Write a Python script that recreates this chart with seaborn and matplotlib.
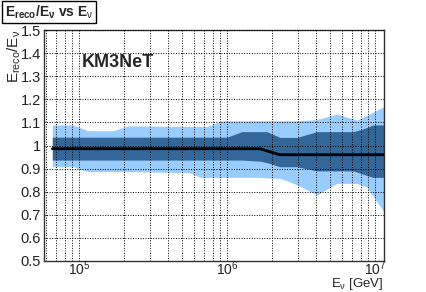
import numpy as np
import pandas as pd
import matplotlib
matplotlib.use("Agg")
import matplotlib.pyplot as plt
import matplotlib.ticker as mticker
import seaborn as sns

# Data (neutrino energy in GeV)
energy = [6.6e4, 9.1e4, 1.15e5, 1.7e5, 2.15e5, 5.6e5, 6.6e5, 7.3e5, 9.3e5, 1.0e6,
          1.26e6, 1.67e6, 1.86e6, 2.28e6, 2.97e6, 4.06e6, 5.53e6, 7.1e6, 7.55e6,
          8.83e6, 9.7e6, 1.15e7]
median = [0.986, 0.986, 0.986, 0.986, 0.986, 0.986, 0.986, 0.986, 0.986, 0.986,
          0.986, 0.986, 0.977, 0.960, 0.960, 0.960, 0.960, 0.960, 0.960,
          0.960, 0.960, 0.960]
dark_lo = [0.937, 0.937, 0.937, 0.937, 0.937, 0.937, 0.937, 0.937, 0.937, 0.937,
           0.937, 0.932, 0.926, 0.908, 0.908, 0.890, 0.890, 0.890, 0.885,
           0.870, 0.862, 0.862]
dark_hi = [1.036, 1.036, 1.036, 1.036, 1.036, 1.036, 1.036, 1.036, 1.036, 1.036,
           1.060, 1.060, 1.060, 1.035, 1.035, 1.060, 1.060, 1.060, 1.064,
           1.078, 1.089, 1.089]
light_lo = [0.908, 0.908, 0.887, 0.887, 0.887, 0.882, 0.862, 0.862, 0.862, 0.862,
            0.862, 0.862, 0.860, 0.858, 0.830, 0.786, 0.836, 0.836, 0.836,
            0.820, 0.780, 0.713]
light_hi = [1.089, 1.089, 1.064, 1.064, 1.085, 1.082, 1.082, 1.082, 1.107, 1.107,
            1.107, 1.107, 1.107, 1.107, 1.107, 1.112, 1.136, 1.115, 1.110,
            1.131, 1.144, 1.168]

df = pd.DataFrame({"E": energy, "median": median})

sns.set_style("white")
plt.rcParams["font.family"] = ["Liberation Sans", "DejaVu Sans"]
plt.rcParams["mathtext.fontset"] = "custom"
plt.rcParams["mathtext.rm"] = "Liberation Sans"
plt.rcParams["mathtext.it"] = "Liberation Sans"
plt.rcParams["mathtext.bf"] = "Liberation Sans:bold"

fig = plt.figure(figsize=(4.27, 2.92), dpi=100)
ax = fig.add_axes([44 / 427, 31 / 292, 340 / 427, 231 / 292])

ax.fill_between(energy, light_lo, light_hi, color="#99ccff", lw=0, zorder=1)
ax.fill_between(energy, dark_lo, dark_hi, color="#336699", lw=0, zorder=2)
sns.lineplot(data=df, x="E", y="median", color="black", linewidth=2, ax=ax, zorder=3)
ax.set_xlabel("")
ax.set_ylabel("")

ax.set_xscale("log")
ax.set_xlim(5.8e4, 1.15e7)
ax.set_ylim(0.5, 1.5)
yt = np.round(np.arange(0.5, 1.51, 0.1), 1)
ax.set_yticks(yt)
ax.set_yticklabels(["0.5", "0.6", "0.7", "0.8", "0.9", "1", "1.1", "1.2", "1.3", "1.4", "1.5"])
ax.yaxis.set_minor_locator(mticker.MultipleLocator(0.01))
ax.xaxis.set_minor_locator(mticker.LogLocator(base=10, subs=np.arange(2, 10)))
ax.xaxis.set_minor_formatter(mticker.NullFormatter())

ax.tick_params(axis="both", which="both", direction="in", colors="#333333",
               labelcolor="#222222", labelsize=10.5)
ax.tick_params(axis="x", labelsize=10)
ax.tick_params(axis="y", which="major", length=7, width=0.8, pad=2)
ax.tick_params(axis="y", which="minor", length=3.5, width=0.6)
ax.tick_params(axis="x", which="major", length=8, width=0.8, pad=-1.5)
ax.tick_params(axis="x", which="minor", length=4, width=0.6)

ax.grid(True, axis="x", which="both", color="black", linestyle=(0, (1, 1.6)), linewidth=0.7, zorder=4)
ax.grid(True, axis="y", which="major", color="black", linestyle=(0, (1, 1.6)), linewidth=0.7, zorder=4)
ax.set_axisbelow(False)
for s in ax.spines.values():
    s.set_color("#333333")
    s.set_linewidth(1.0)

# axis titles placed like ROOT does (right / top aligned)
fig.text(384 / 427, 1 - 291.5 / 292, r"E$_{\nu}$ [GeV]", fontsize=9.5, ha="right", va="bottom")
fig.text(14 / 427, 1 - 30 / 292, r"E$_{reco}$/E$_{\nu}$", fontsize=11, ha="center", va="top",
         rotation=90)

ax.text(0.11, 0.86, "KM3NeT", transform=ax.transAxes, fontsize=13, fontweight="bold",
        va="center", ha="left")

fig.text(5 / 427, 1 - 12 / 292, r"$\mathbf{E_{reco}/E_{\nu}}$ vs E$_{\nu}$", fontsize=10,
         fontweight="bold", va="center", ha="left",
         bbox=dict(boxstyle="square,pad=0.2", fc="white", ec="black", lw=1))

fig.savefig("out.png", dpi=100)
